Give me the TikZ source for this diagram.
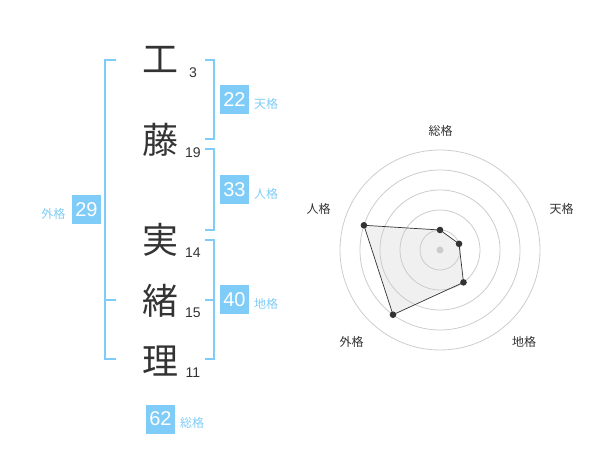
\documentclass[tikz,border=0pt]{standalone}
\usepackage{fontspec}
\setmainfont{Noto Sans CJK JP}
\newfontfamily\digitfont{Liberation Sans}
\definecolor{kakublue}{HTML}{80CCF8}
\definecolor{inkgray}{HTML}{333333}
\definecolor{ringgray}{HTML}{CCCCCC}

\begin{document}
\begin{tikzpicture}[x=1pt,y=-1pt,
    kanji/.style={font=\fontsize{36}{36}\selectfont, text=inkgray, inner sep=0pt},
    strokes/.style={font=\digitfont\fontsize{14}{14}\selectfont, text=inkgray, inner sep=0pt},
    kakubox/.style={fill=kakublue, text=white, font=\digitfont\fontsize{20}{20}\selectfont, minimum size=29pt, inner sep=0pt},
    kakulabel/.style={font=\fontsize{12}{12}\selectfont, text=kakublue, inner sep=0pt},
    bracket/.style={draw=kakublue, line width=2pt},
    axislabel/.style={font=\fontsize{12}{12}\selectfont, text=inkgray, inner sep=0pt}]
            \useasboundingbox (0,0) rectangle (600,470);

            \node [kanji] (k1) at (160,59) {工};
            \node [kanji] (k2) at (160,140) {藤};
            \node [kanji] (k3) at (160,240) {実};
            \node [kanji] (k4) at (160,301) {緒};
            \node [kanji] (k5) at (160,361) {理};
            \node [strokes] (s1) at (193,73) {3};
            \node [strokes] (s2) at (193,153) {19};
            \node [strokes] (s3) at (193,253) {14};
            \node [strokes] (s4) at (193,313) {15};
            \node [strokes] (s5) at (193,373) {11};

            \draw [bracket] (116,60) -- (105,60) -- (105,359) -- (116,359);
            \draw [bracket] (105,300) -- (116,300);
            \draw [bracket] (205,60) -- (214,60) -- (214,139) -- (205,139);
            \draw [bracket] (205,149) -- (214,149) -- (214,230) -- (205,230);
            \draw [bracket] (205,240) -- (214,240) -- (214,359) -- (205,359);
            \draw [bracket] (205,300) -- (214,300);

            \node [kakubox] (ten) at (234.5,100) {22};
            \node [kakubox] (jin) at (234.5,190) {33};
            \node [kakubox] (chi) at (234.5,300) {40};
            \node [kakubox] (gai) at (86.5,210) {29};
            \node [kakubox] (sou) at (160.5,419) {62};
            \node [kakulabel] (tenl) at (266,103.5) {天格};
            \node [kakulabel] (jinl) at (266,193.5) {人格};
            \node [kakulabel] (chil) at (266,303.5) {地格};
            \node [kakulabel] (gail) at (53.5,213.5) {外格};
            \node [kakulabel] (soul) at (192,422.5) {総格};

            \begin{scope}[shift={(440,250)}]
                \fill [black!6] (-90:20) -- (-18:20) -- (54:40) -- (126:80) -- (198:80) -- cycle;
                \foreach \r in {20,40,...,100}
                    \draw [ringgray, line width=0.8pt] (0,0) circle (\r);
                \fill [ringgray] (0,0) circle (3.5);
                \draw [inkgray, line width=0.7pt]
                    (-90:20) -- (-18:20) -- (54:40) -- (126:80) -- (198:80) -- cycle;
                \foreach \a/\r in {-90/20,-18/20,54/40,126/80,198/80}
                    \fill [inkgray] (\a:\r) circle (3.3);
            \end{scope}
            \node [axislabel] (asou) at (440.5,130.5) {総格};
            \node [axislabel] (aten) at (561.5,208.5) {天格};
            \node [axislabel] (achi) at (524,341.5) {地格};
            \node [axislabel] (agai) at (351.5,341.5) {外格};
            \node [axislabel] (ajin) at (318.5,208.5) {人格};
        \end{tikzpicture}
\end{document}
